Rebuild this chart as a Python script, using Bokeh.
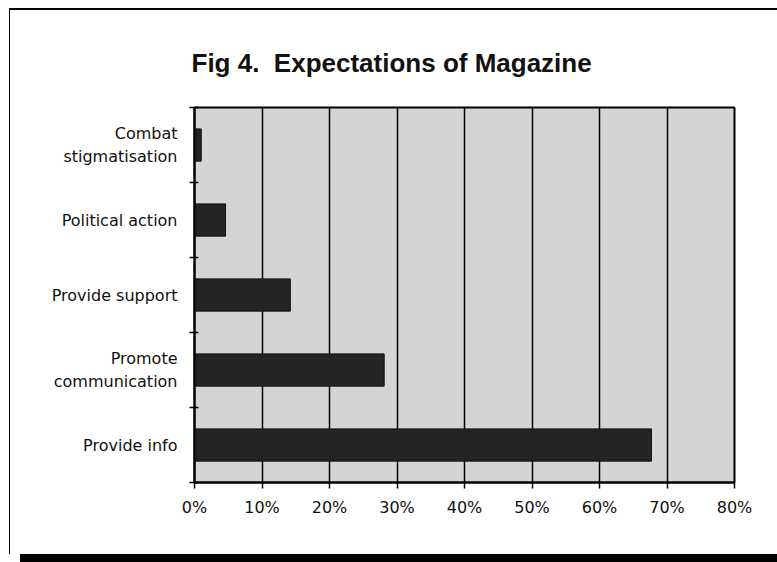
from bokeh.plotting import figure
from bokeh.layouts import column
from bokeh.models import FixedTicker, NumeralTickFormatter, Div
from bokeh.embed import file_html
from bokeh.resources import INLINE

# Survey answers, listed from top to bottom of the chart
categories = ["Combat\nstigmatisation", "Political action", "Provide support",
              "Promote\ncommunication", "Provide info"]
shares = [0.010, 0.046, 0.142, 0.281, 0.677]
x_ticks = [0.0, 0.1, 0.2, 0.3, 0.4, 0.5, 0.6, 0.7, 0.8]

n = len(categories)
# bottom-up slot positions: last category sits in the lowest slot
y_pos = [n - 0.5 - i for i in range(n)]

p = figure(
    frame_width=539, frame_height=373,
    x_range=(0, 0.8), y_range=(0, n),
    output_backend="svg", toolbar_location=None,
    min_border_left=184, min_border_top=97,
    min_border_right=45, min_border_bottom=74,
    title="Fig 4.\u00a0 Expectations of Magazine",
)
p.margin = (8, 0, 0, 9)
p.styles = {"border-left": "1px solid #000", "border-top": "2px solid #000"}

p.title.text_font = "Liberation Sans"
p.title.text_font_size = "26px"
p.title.text_font_style = "bold"
p.title.text_color = "#111111"
p.title.align = "left"
p.title.offset = -3
p.title.standoff = 60

p.background_fill_color = "#d4d4d4"
p.border_fill_color = "white"
p.outline_line_color = "black"
p.outline_line_width = 2

p.hbar(y=y_pos, right=shares, left=0, height=0.43,
       fill_color="#242424", line_color="#111111", line_width=1)

# x axis: percentage scale
p.xaxis.ticker = FixedTicker(ticks=x_ticks)
p.xaxis.formatter = NumeralTickFormatter(format="0%")
p.xaxis.axis_line_width = 2
p.xaxis.major_tick_in = 0
p.xaxis.major_tick_out = 6
p.xaxis.major_tick_line_width = 1.5
p.xaxis.minor_tick_line_color = None
p.xaxis.major_label_standoff = 9

# y axis: labels in slot centres, tick marks on slot boundaries
p.yaxis.ticker = FixedTicker(ticks=y_pos, minor_ticks=list(range(n + 1)))
p.yaxis.major_label_overrides = {y: c for y, c in zip(y_pos, categories)}
p.yaxis.major_tick_in = 0
p.yaxis.major_tick_out = 0
p.yaxis.minor_tick_in = 4
p.yaxis.minor_tick_out = 5
p.yaxis.minor_tick_line_width = 1.5
p.yaxis.axis_line_width = 2
p.yaxis.major_label_standoff = 12

for ax in (p.xaxis, p.yaxis):
    ax.major_label_text_font = "DejaVu Sans"
    ax.major_label_text_font_size = "16px"
    ax.major_label_text_color = "#111111"
    ax.axis_line_color = "black"
    ax.major_tick_line_color = "black"

p.xgrid.grid_line_color = "black"
p.xgrid.grid_line_width = 1.5
p.ygrid.grid_line_color = None

band = Div(width=757, height=9, margin=(0, 0, 0, 20),
           styles={"background-color": "#000"})

layout = column(p, band, spacing=0)

open("out.html", "w").write(file_html(layout, INLINE))
